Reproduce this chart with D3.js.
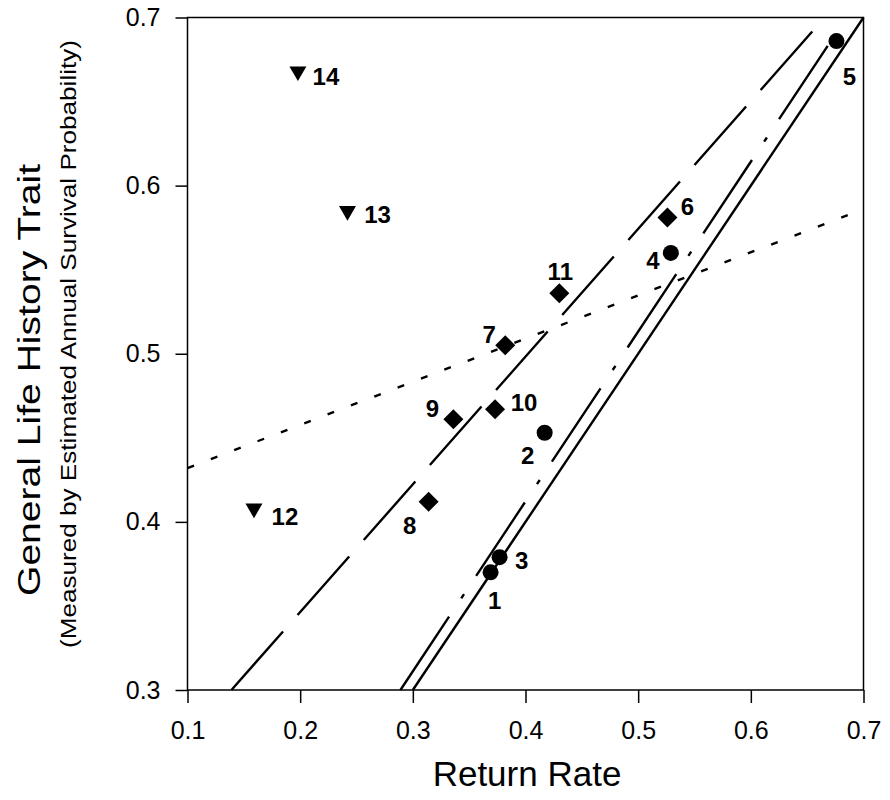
<!DOCTYPE html>
<html>
<head>
<meta charset="utf-8">
<script src="https://cdn.jsdelivr.net/npm/d3@7"></script>
<style>
  body { margin: 0; background: #fff; }
  svg text { font-family: "Liberation Sans", Arial, sans-serif; fill: #000; }
</style>
</head>
<body>
<div class="chart"></div>
<script>
// species / site numbers and their values
var ids = [1, 2, 3, 4, 5, 6, 7, 8, 9, 10, 11, 12, 13, 14];
var returnRate = [0.369, 0.417, 0.377, 0.529, 0.676, 0.526, 0.382, 0.314, 0.336, 0.373, 0.430, 0.159, 0.242, 0.198];
var survival   = [0.370, 0.453, 0.379, 0.560, 0.686, 0.581, 0.505, 0.412, 0.461, 0.467, 0.536, 0.408, 0.585, 0.668];
var group      = ["circle", "circle", "circle", "circle", "circle",
                  "diamond", "diamond", "diamond", "diamond", "diamond", "diamond",
                  "triangle", "triangle", "triangle"];

// fitted lines, end points [x, y]
var solidLine    = [[0.300, 0.300], [0.700, 0.700]];
var dashDotLine  = [[0.289, 0.300], [0.674, 0.689]];
var longDashLine = [[0.139, 0.300], [0.655, 0.692]];
var dottedLine   = [[0.100, 0.432], [0.700, 0.586]];

var xTicks = [0.1, 0.2, 0.3, 0.4, 0.5, 0.6, 0.7];
var yTicks = [0.3, 0.4, 0.5, 0.6, 0.7];

var margin = {top: 17.5, right: 26.5, bottom: 110, left: 187.5},
    width = 890 - margin.left - margin.right,
    height = 800 - margin.top - margin.bottom;

var svg = d3.select(".chart")
  .append("svg")
    .attr("width", 890)
    .attr("height", 800)
  .append("g")
    .attr("transform", "translate(" + margin.left + "," + margin.top + ")");

var x = d3.scaleLinear().domain([0.1, 0.7]).range([0, width]);
var y = d3.scaleLinear().domain([0.3, 0.7]).range([height, 0]);

// axes
var xAxis = svg.append("g")
  .attr("transform", "translate(0," + height + ")")
  .call(d3.axisBottom(x).tickValues(xTicks).tickSize(13).tickPadding(18)
        .tickFormat(d3.format(".1f")));
var yAxis = svg.append("g")
  .call(d3.axisLeft(y).tickValues(yTicks).tickSize(12).tickPadding(15)
        .tickFormat(d3.format(".1f")));
[xAxis, yAxis].forEach(function(a) {
  a.attr("font-size", null).attr("font-family", null);
  a.select(".domain").remove();
  a.selectAll("line").attr("stroke", "#000").attr("stroke-width", 1.5);
  a.selectAll("text").style("font-size", "25px").attr("fill", "#000");
});

// frame
svg.append("rect")
  .attr("x", 0).attr("y", 0)
  .attr("width", width).attr("height", height)
  .attr("fill", "none")
  .attr("stroke", "#000")
  .attr("stroke-width", 1.5);

// lines
var line = d3.line().x(function(d) { return x(d[0]); }).y(function(d) { return y(d[1]); });
var lines = [
  {pts: solidLine, dash: null},
  {pts: dashDotLine, dash: "88,22,5,22"},
  {pts: longDashLine, dash: "78,22"},
  {pts: dottedLine, dash: "7,18"}
];
svg.selectAll(".fit")
  .data(lines)
  .enter().append("path")
    .attr("class", "fit")
    .attr("d", function(d) { return line(d.pts); })
    .attr("fill", "none")
    .attr("stroke", "#000")
    .attr("stroke-width", 2.4)
    .attr("stroke-dasharray", function(d) { return d.dash; });

// points
var data = ids.map(function(id, i) {
  return {id: id, x: returnRate[i], y: survival[i], g: group[i]};
});

var sym = {
  circle: d3.symbol().type(d3.symbolCircle).size(Math.PI * 8 * 8),
  diamond: d3.symbol().type(d3.symbolSquare).size(200),
  triangle: d3.symbol().type(d3.symbolTriangle).size(125)
};
var rot = {circle: 0, diamond: 45, triangle: 180};

svg.selectAll(".pt")
  .data(data)
  .enter().append("path")
    .attr("class", "pt")
    .attr("d", function(d) { return sym[d.g](); })
    .attr("transform", function(d) {
      return "translate(" + x(d.x) + "," + y(d.y) + ") rotate(" + rot[d.g] + ")";
    })
    .attr("fill", "#000");

// label offsets (px) from each marker
var labelOff = {
  1: [4, 28], 2: [-17, 23], 3: [22, 3], 4: [-18, 7], 5: [13, 35],
  6: [20, -11], 7: [-16, -11], 8: [-19, 24], 9: [-21, -11], 10: [29, -7],
  11: [1, -22], 12: [31, 8], 13: [30, 4], 14: [28, 5]
};

svg.selectAll(".lbl")
  .data(data)
  .enter().append("text")
    .attr("class", "lbl")
    .attr("x", function(d) { return x(d.x) + labelOff[d.id][0]; })
    .attr("y", function(d) { return y(d.y) + labelOff[d.id][1]; })
    .attr("dy", "0.36em")
    .attr("text-anchor", "middle")
    .style("font-weight", "bold")
    .style("font-size", "24px")
    .text(function(d) { return d.id; });

// axis titles
svg.append("text")
  .attr("x", 527 - margin.left)
  .attr("y", 786 - margin.top)
  .attr("text-anchor", "middle")
  .style("font-size", "35px")
  .text("Return Rate");

svg.append("text")
  .attr("transform", "translate(" + (40 - margin.left) + "," + (380 - margin.top) + ") rotate(-90)")
  .attr("text-anchor", "middle")
  .attr("textLength", 432)
  .attr("lengthAdjust", "spacingAndGlyphs")
  .style("font-size", "31px")
  .text("General Life History Trait");

svg.append("text")
  .attr("transform", "translate(" + (76 - margin.left) + "," + (344 - margin.top) + ") rotate(-90)")
  .attr("text-anchor", "middle")
  .attr("textLength", 608)
  .attr("lengthAdjust", "spacingAndGlyphs")
  .style("font-size", "22px")
  .text("(Measured by Estimated Annual Survival Probability)");
</script>
</body>
</html>
